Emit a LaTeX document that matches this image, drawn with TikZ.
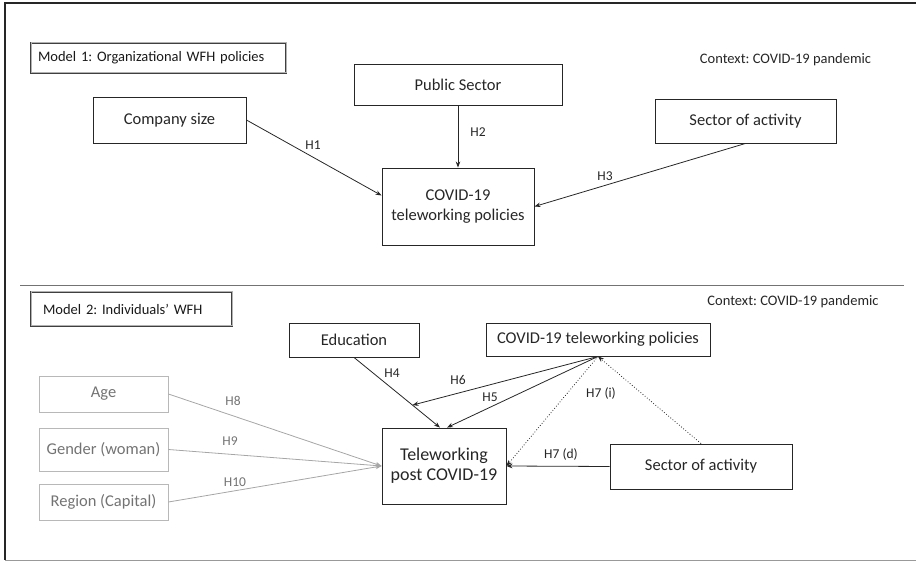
\documentclass[tikz,border=0pt]{standalone}
\usepackage{fontspec}
\setmainfont{Carlito}
\usetikzlibrary{arrows.meta,calc}
\frenchspacing
\begin{document}
\begin{tikzpicture}[x=1pt,y=-1pt,
  box/.style={draw=black!85, line width=0.9pt, inner sep=0pt, align=center, font=\fontsize{16.5}{20}\selectfont, text=black!85},
  gbox/.style={box, draw=black!28, text=black!55},
  lbl/.style={font=\fontsize{13.5}{16}\selectfont, text=black!85, inner sep=0pt},
  glbl/.style={lbl, text=black!55},
  ctx/.style={font=\fontsize{14.5}{17}\selectfont, text=black!85, inner sep=0pt},
  arr/.style={line width=0.8pt, draw=black!85, -{Stealth[length=6pt,width=4.5pt]}},
  garr/.style={arr, draw=black!35},
  darr/.style={arr, dotted},
  mbox/.style={draw=black!75, double=black!30, double distance=1pt, line width=0.9pt, inner sep=0pt, align=left, font=\fontsize{14.5}{17}\selectfont, text=black!90}
]
\useasboundingbox (0,0) rectangle (916,561);
% frame
\draw[black!85, line width=1.2pt] (916,3) -- (5,3) -- (5,560);
\draw[black!40, line width=1pt] (5,560) -- (916,560);
\draw[black!55, line width=0.9pt] (20,285) -- (904,285);

% Model 1
\node[mbox, minimum width=255, minimum height=30, text width=241] (m1) at (158.5,58) {Model 1: Organizational WFH policies};
\node[ctx] (ctx1) at (785.5,60) {Context: COVID-19 pandemic};
\node[box, minimum width=153, minimum height=46] (cs) at (169.5,120) {Company size};
\node[box, minimum width=208, minimum height=41] (ps) at (458,84.5) {Public Sector};
\node[box, minimum width=181, minimum height=44] (sa1) at (745.5,121) {Sector of activity};
\node[box, minimum width=152, minimum height=77] (cp1) at (458,206.5) {COVID-19\\teleworking policies};

\draw[arr] (cs.east) -- ($(cp1.west)+(0,-11)$);
\draw[arr] (ps.south) -- (cp1.north);
\draw[arr] (sa1.south) -- (cp1.east);
\node[lbl] (h1) at (313,145) {H1};
\node[lbl] (h2) at (478,132) {H2};
\node[lbl] (h3) at (605,176) {H3};

% Model 2
\node[mbox, minimum width=201, minimum height=34, text width=177] (m2) at (131.5,309) {Model 2: Individuals’ WFH};
\node[ctx] (ctx2) at (793,302) {Context: COVID-19 pandemic};
\node[box, minimum width=130, minimum height=34] (edu) at (354,340) {Education};
\node[box, minimum width=224, minimum height=33] (cp2) at (598,339.5) {COVID-19 teleworking policies};
\node[gbox, minimum width=129, minimum height=36] (age) at (103.5,394) {Age};
\node[gbox, minimum width=129, minimum height=43] (gen) at (103.5,449.5) {Gender (woman)};
\node[gbox, minimum width=129, minimum height=36] (reg) at (103.5,502) {Region (Capital)};
\node[box, minimum width=124, minimum height=76, font=\fontsize{18}{20}\selectfont] (tel) at (444,466) {Teleworking\\post COVID-19};
\node[box, minimum width=182, minimum height=45] (sa2) at (701,466.5) {Sector of activity};

\coordinate (t4) at ($(tel.north)+(-4,0)$);
\coordinate (t5) at ($(tel.north)+(3,0)$);
\coordinate (m6) at ($(edu.south)!0.68!(t4)$);
\draw[arr] (edu.south) -- (t4);
\draw[arr] (cp2.south) -- (t5);
\draw[arr] (cp2.south) -- (m6);
\draw[darr] (sa2.north) -- (cp2.south);
\draw[darr] (cp2.south) -- (tel.east);
\draw[arr] (sa2.west) -- (tel.east);
\draw[garr] (age.east) -- (tel.west);
\draw[garr] (gen.east) -- (tel.west);
\draw[garr] (reg.east) -- (tel.west);

\node[lbl] (h4) at (392,373) {H4};
\node[lbl] (h6) at (458,380) {H6};
\node[lbl] (h5) at (490,397) {H5};
\node[lbl] (h7i) at (601,393) {H7 (i)};
\node[lbl] (h7d) at (561,454) {H7 (d)};
\node[glbl] (h8) at (233,401) {H8};
\node[glbl] (h9) at (230,441) {H9};
\node[glbl] (h10) at (235,482) {H10};
\end{tikzpicture}
\end{document}
